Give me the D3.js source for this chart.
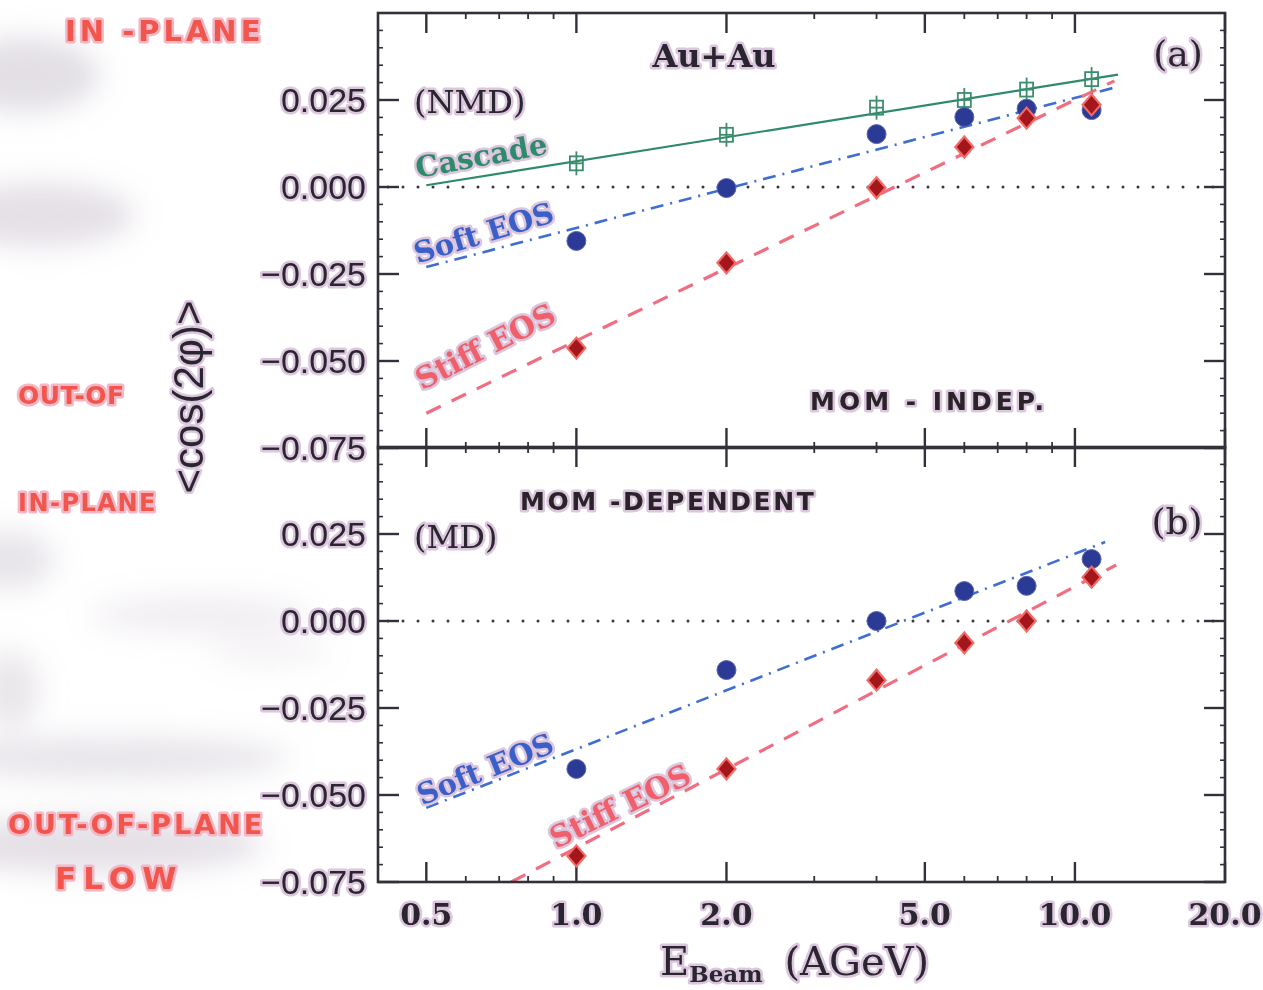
<!DOCTYPE html>
<html>
<head>
<meta charset="utf-8">
<script src="https://cdn.jsdelivr.net/npm/d3@7"></script>
<style>
  html, body { margin: 0; padding: 0; background: #ffffff; }
  svg { display: block; }
  .halo { paint-order: stroke; stroke: #dcc6de; stroke-width: 5px; stroke-linejoin: round; }
  .halo-red { paint-order: stroke; stroke: #f3b7c6; stroke-width: 5px; stroke-linejoin: round; }
</style>
</head>
<body>
<svg id="chart" width="1263" height="990"></svg>
<script>
// Beam energies (AGeV) of the transport calculations
const energies = [1.0, 2.0, 4.0, 6.0, 8.0, 10.8];

// <cos(2phi)> — panel (a), momentum-independent mean field (NMD)
const cascadeNMD = [0.0068, 0.0150, 0.0228, 0.0250, 0.0280, 0.0310];
const softNMD    = [-0.0155, -0.0003, 0.0152, 0.0201, 0.0225, 0.0221];
const stiffNMD   = [-0.0463, -0.0218, -0.0002, 0.0115, 0.0198, 0.0236];

// <cos(2phi)> — panel (b), momentum-dependent mean field (MD)
const softMD  = [-0.0425, -0.0141, 0.0000, 0.0086, 0.0101, 0.0178];
const stiffMD = [-0.0675, -0.0425, -0.0170, -0.0063, 0.0000, 0.0126];

// Straight-line fits in log(E): [energy, value] end points
const cascadeFitNMD = [[0.5, 0.0005], [12.2, 0.0323]];
const softFitNMD    = [[0.5, -0.0230], [12.1, 0.0287]];
const stiffFitNMD   = [[0.5, -0.0650], [12.0, 0.0305]];
const softFitMD     = [[0.5, -0.0537], [11.5, 0.0227]];
const stiffFitMD    = [[0.74, -0.0750], [12.1, 0.0161]];

// Axis ticks
const xMajorTicks = [0.5, 1.0, 2.0, 5.0, 10.0, 20.0];
const xMinorTicks = [0.6, 0.7, 0.8, 0.9, 3, 4, 6, 7, 8, 9];
const xTickLabels = ["0.5", "1.0", "2.0", "5.0", "10.0", "20.0"];
const yMajorTicks = [-0.075, -0.05, -0.025, 0.0, 0.025];
const yTickLabels = ["\u22120.075", "\u22120.050", "\u22120.025", "0.000", "0.025"];

const svg = d3.select("#chart");

// Soft scanner haze in the left margin
const defs = svg.append("defs");
defs.append("filter").attr("id", "haze").attr("x", "-50%").attr("y", "-50%").attr("width", "200%").attr("height", "200%")
  .append("feGaussianBlur").attr("stdDeviation", 14);
const hazeBlobs = [
  [25, 75, 75, 38, 0.4], [40, 215, 95, 32, 0.38], [10, 560, 45, 30, 0.32],
  [10, 690, 30, 40, 0.3], [200, 615, 110, 18, 0.22], [110, 758, 180, 22, 0.32],
  [95, 845, 170, 28, 0.38], [270, 650, 60, 15, 0.15]
];
svg.append("g").attr("filter", "url(#haze)")
  .selectAll("ellipse").data(hazeBlobs).join("ellipse")
  .attr("cx", d => d[0]).attr("cy", d => d[1]).attr("rx", d => d[2]).attr("ry", d => d[3])
  .attr("fill", "#b9aebd").attr("opacity", d => d[4]);

const left = 378, right = 1225;
const x = d3.scaleLog().domain([0.4, 20]).range([left, right]);

const panels = [
  { top: 13, bottom: 448, series: [
      { key: "cascade", values: cascadeNMD, fit: cascadeFitNMD },
      { key: "soft", values: softNMD, fit: softFitNMD },
      { key: "stiff", values: stiffNMD, fit: stiffFitNMD } ] },
  { top: 447, bottom: 882, series: [
      { key: "soft", values: softMD, fit: softFitMD },
      { key: "stiff", values: stiffMD, fit: stiffFitMD } ] }
];

const style = {
  cascade: { color: "#2f8a6c", width: 2.2, dash: null },
  soft:    { color: "#3f6ed2", width: 2.6, dash: "13,7,2,7" },
  stiff:   { color: "#f06e80", width: 3.2, dash: "16,12" }
};

const frameColor = "#34303a";

panels.forEach((p, i) => {
  const y = d3.scaleLinear().domain([-0.075, 0.05]).range([p.bottom, p.top]);
  p.y = y;
  const g = svg.append("g");

  const clipId = "clip" + i;
  defs.append("clipPath").attr("id", clipId).append("rect")
    .attr("x", left).attr("y", p.top).attr("width", right - left).attr("height", p.bottom - p.top);

  // zero reference line (dotted)
  g.append("line")
    .attr("x1", left + 10).attr("x2", right - 8)
    .attr("y1", y(0)).attr("y2", y(0))
    .attr("stroke", "#3a3540").attr("stroke-width", 3)
    .attr("stroke-linecap", "round").attr("stroke-dasharray", "0,15");

  // inward ticks on all four sides
  const tickG = g.append("g").attr("stroke", frameColor).attr("stroke-width", 2.4);
  xMajorTicks.forEach(t => {
    tickG.append("line").attr("x1", x(t)).attr("x2", x(t)).attr("y1", p.bottom).attr("y2", p.bottom - 20);
    tickG.append("line").attr("x1", x(t)).attr("x2", x(t)).attr("y1", p.top).attr("y2", p.top + 20);
  });
  xMinorTicks.forEach(t => {
    tickG.append("line").attr("x1", x(t)).attr("x2", x(t)).attr("y1", p.bottom).attr("y2", p.bottom - 6).attr("stroke-width", 1.8);
    tickG.append("line").attr("x1", x(t)).attr("x2", x(t)).attr("y1", p.top).attr("y2", p.top + 6).attr("stroke-width", 1.8);
  });
  yMajorTicks.forEach(t => {
    tickG.append("line").attr("x1", left).attr("x2", left + 21).attr("y1", y(t)).attr("y2", y(t));
    tickG.append("line").attr("x1", right).attr("x2", right - 21).attr("y1", y(t)).attr("y2", y(t));
  });
  d3.range(-0.075, 0.0501, 0.005).forEach(t => {
    tickG.append("line").attr("x1", left).attr("x2", left + 5).attr("y1", y(t)).attr("y2", y(t)).attr("stroke-width", 1.6);
    tickG.append("line").attr("x1", right).attr("x2", right - 5).attr("y1", y(t)).attr("y2", y(t)).attr("stroke-width", 1.6);
  });

  // y tick labels
  g.append("g").selectAll("text").data(yMajorTicks).join("text")
    .attr("class", "halo")
    .attr("x", 366).attr("y", d => y(d)).attr("dy", "0.36em")
    .attr("text-anchor", "end")
    .attr("font-family", "Liberation Sans, Arial, sans-serif")
    .attr("font-size", 34).attr("fill", "#2a2630")
    .text((d, k) => yTickLabels[k]);

  // fitted lines
  const line = d3.line().x(d => x(d[0])).y(d => y(d[1]));
  const lineG = g.append("g").attr("clip-path", `url(#${clipId})`);
  p.series.forEach(s => {
    const st = style[s.key];
    lineG.append("path").datum(s.fit)
      .attr("d", line).attr("fill", "none")
      .attr("stroke", st.color).attr("stroke-width", st.width)
      .attr("stroke-dasharray", st.dash);
  });

  // data markers
  const markG = g.append("g");
  p.series.forEach(s => {
    const pts = energies.map((e, k) => [e, s.values[k]]);
    if (s.key === "soft") {
      markG.append("g").selectAll("circle").data(pts).join("circle")
        .attr("cx", d => x(d[0])).attr("cy", d => y(d[1])).attr("r", 9.5)
        .attr("fill", "#2b3a95").attr("stroke", "#5a64b0").attr("stroke-width", 1);
    } else if (s.key === "stiff") {
      markG.append("g").selectAll("path").data(pts).join("path")
        .attr("transform", d => `translate(${x(d[0])},${y(d[1])})`)
        .attr("d", "M0,-10.5L9,0L0,10.5L-9,0Z")
        .attr("fill", "#a3161b").attr("stroke", "#f26a66").attr("stroke-width", 2.2);
    } else {
      const cg = markG.append("g").selectAll("g").data(pts).join("g")
        .attr("transform", d => `translate(${x(d[0])},${y(d[1])})`)
        .attr("stroke", "#3b8d6d").attr("stroke-width", 1.8).attr("fill", "none");
      cg.append("rect").attr("x", -6.5).attr("y", -7).attr("width", 13).attr("height", 14);
      cg.append("line").attr("x1", 0).attr("x2", 0).attr("y1", -12).attr("y2", 12);
      cg.append("line").attr("x1", -6.5).attr("x2", 6.5).attr("y1", 0).attr("y2", 0);
    }
  });

  // frame
  g.append("rect").attr("x", left).attr("y", p.top).attr("width", right - left).attr("height", p.bottom - p.top)
    .attr("fill", "none").attr("stroke", frameColor).attr("stroke-width", 2.6);
});

const [pa, pb] = panels;
const serif = "DejaVu Serif, serif";

// curve labels, placed along their fits in data coordinates
const curveLabels = [
  { panel: pa, text: "Cascade",   e: 0.48, v: 0.0026,  angle: -10.5, color: "#2f8a6c", size: 29 },
  { panel: pa, text: "Soft EOS",  e: 0.48, v: -0.0220, angle: -17,   color: "#3a5fc8", size: 29 },
  { panel: pa, text: "Stiff EOS", e: 0.49, v: -0.0585, angle: -27,   color: "#f0606a", size: 30 },
  { panel: pb, text: "Soft EOS",  e: 0.49, v: -0.0530, angle: -22,   color: "#3a5fc8", size: 29 },
  { panel: pb, text: "Stiff EOS", e: 0.91, v: -0.0655, angle: -26,   color: "#f0606a", size: 30 }
];
svg.append("g").selectAll("text").data(curveLabels).join("text")
  .attr("class", "halo")
  .attr("transform", d => `translate(${x(d.e)},${d.panel.y(d.v)}) rotate(${d.angle})`)
  .attr("font-family", serif).attr("font-weight", "bold")
  .attr("font-size", d => d.size).attr("fill", d => d.color)
  .text(d => d.text);

// panel annotations
const notes = [
  { text: "Au+Au", x: 714, y: 67, anchor: "middle", size: 32, weight: "bold" },
  { text: "(a)",   x: 1178, y: 66, anchor: "middle", size: 36, weight: "normal" },
  { text: "(NMD)", x: 414, y: 113, anchor: "start", size: 32, weight: "normal" },
  { text: "(MD)",  x: 414, y: 548, anchor: "start", size: 32, weight: "normal" },
  { text: "(b)",   x: 1177, y: 534, anchor: "middle", size: 36, weight: "normal" }
];
svg.append("g").selectAll("text").data(notes).join("text")
  .attr("class", "halo")
  .attr("x", d => d.x).attr("y", d => d.y).attr("text-anchor", d => d.anchor)
  .attr("font-family", serif).attr("font-weight", d => d.weight)
  .attr("font-size", d => d.size).attr("fill", "#2a2630")
  .text(d => d.text);

// hand-written remarks
const handDark = [
  { text: "MOM - INDEP.",   x: 810, y: 410, size: 25, ls: 4 },
  { text: "MOM -DEPENDENT", x: 520, y: 510, size: 25, ls: 2.6 }
];
svg.append("g").selectAll("text").data(handDark).join("text")
  .attr("class", "halo")
  .attr("x", d => d.x).attr("y", d => d.y)
  .attr("font-family", "DejaVu Sans, sans-serif").attr("font-weight", "bold")
  .attr("font-size", d => d.size).attr("letter-spacing", d => d.ls)
  .attr("fill", "#2a2428")
  .text(d => d.text);

const handRed = [
  { text: "IN -PLANE",    x: 65, y: 41,  size: 29, ls: 4 },
  { text: "OUT-OF",       x: 18, y: 404, size: 25, ls: 0.5 },
  { text: "IN-PLANE",     x: 18, y: 511, size: 24, ls: 1.5 },
  { text: "OUT-OF-PLANE", x: 8,  y: 834, size: 27, ls: 3 },
  { text: "FLOW",         x: 55, y: 889, size: 31, ls: 7 }
];
svg.append("g").selectAll("text").data(handRed).join("text")
  .attr("class", "halo-red")
  .attr("x", d => d.x).attr("y", d => d.y)
  .attr("font-family", "DejaVu Sans, sans-serif").attr("font-weight", "bold")
  .attr("font-size", d => d.size).attr("letter-spacing", d => d.ls)
  .attr("fill", "#f2554c")
  .text(d => d.text);

// x tick labels
svg.append("g").selectAll("text").data(xMajorTicks).join("text")
  .attr("class", "halo")
  .attr("x", d => x(d)).attr("y", 925)
  .attr("text-anchor", "middle")
  .attr("font-family", serif).attr("font-weight", "bold")
  .attr("font-size", 30).attr("fill", "#2a2630")
  .text((d, k) => xTickLabels[k]);

// x axis title
const xt = svg.append("text").attr("class", "halo")
  .attr("x", 660).attr("y", 975)
  .attr("font-family", serif).attr("font-size", 40).attr("fill", "#2a2630");
xt.append("tspan").text("E");
xt.append("tspan").attr("font-size", 23).attr("font-weight", "bold").attr("dy", 7).text("Beam");
xt.append("tspan").attr("dy", -7).attr("dx", 22).text("(AGeV)");

// y axis title
svg.append("text").attr("class", "halo")
  .attr("transform", "translate(203,397) rotate(-90)")
  .attr("text-anchor", "middle")
  .attr("font-family", "Liberation Sans, Arial, sans-serif")
  .attr("font-size", 42).attr("fill", "#2a2630")
  .text("<cos(2\u03c6)>");
</script>
</body>
</html>
